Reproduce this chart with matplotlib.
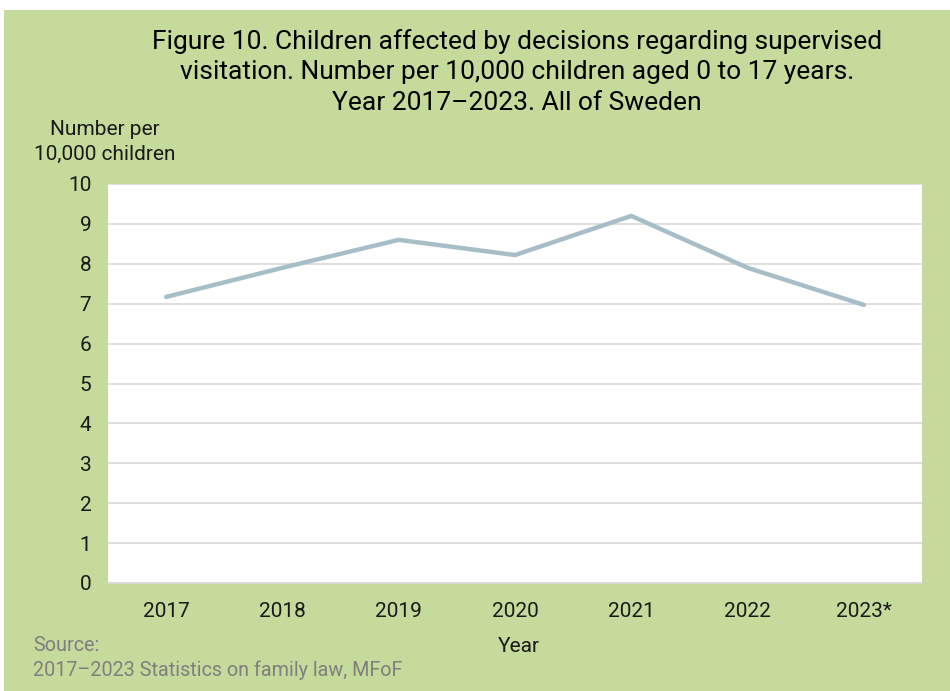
import matplotlib
matplotlib.use("Agg")
import matplotlib.pyplot as plt
from matplotlib.patches import Rectangle

years = ["2017", "2018", "2019", "2020", "2021", "2022", "2023*"]
values = [7.17, 7.9, 8.6, 8.22, 9.2, 7.9, 6.97]
y_ticks = list(range(0, 11))

plt.rcParams['font.family'] = ['Roboto', 'DejaVu Sans']

fig = plt.figure(figsize=(9.5, 6.91), dpi=100)
fig.patch.set_facecolor('white')
# green panel behind the chart
fig.patches.append(Rectangle((4 / 950, 0), 1, 681 / 691, transform=fig.transFigure,
                             facecolor='#C5DA9B', edgecolor='none', zorder=-1))

ax = fig.add_axes([108 / 950, 108 / 691, 814 / 950, 399 / 691])
ax.set_facecolor('white')
ax.plot(range(len(years)), values, color='#A7BDC8', linewidth=3.2,
        solid_capstyle='round', solid_joinstyle='miter', zorder=3)

ax.set_xlim(-0.5, len(years) - 0.5)
ax.set_ylim(0, 10)
ax.set_yticks(y_ticks)
ax.set_xticks(range(len(years)))
ax.set_xticklabels(years)
ax.grid(axis='y', color='#D9D9D9', linewidth=1.2)
ax.set_axisbelow(True)
for s in ['top', 'right', 'left']:
    ax.spines[s].set_visible(False)
ax.spines['bottom'].set_color('#D9D9D9')
ax.spines['bottom'].set_linewidth(1.2)
ax.tick_params(length=0, labelsize=15, colors='#1a1a1a')
ax.tick_params(axis='x', pad=13.5)
ax.tick_params(axis='y', pad=12)

fig.text(517 / 950, 1 - 72 / 691,
         "Figure 10. Children affected by decisions regarding supervised\n"
         "visitation. Number per 10,000 children aged 0 to 17 years.\n"
         "Year 2017\u20132023. All of Sweden",
         ha='center', va='center', fontsize=19, linespacing=1.36, color='black')
fig.text(105 / 950, 1 - 142 / 691, "Number per\n10,000 children",
         ha='center', va='center', fontsize=15, linespacing=1.36, color='#1a1a1a')
fig.text(519 / 950, 1 - 646 / 691, "Year", ha='center', va='center',
         fontsize=15, color='#1a1a1a')
fig.text(33 / 950, 1 - 658 / 691, "Source:\n2017\u20132023 Statistics on family law, MFoF",
         ha='left', va='center', fontsize=14.2, linespacing=1.32, color='#7F7F7F')

fig.savefig("out.png", dpi=100)
